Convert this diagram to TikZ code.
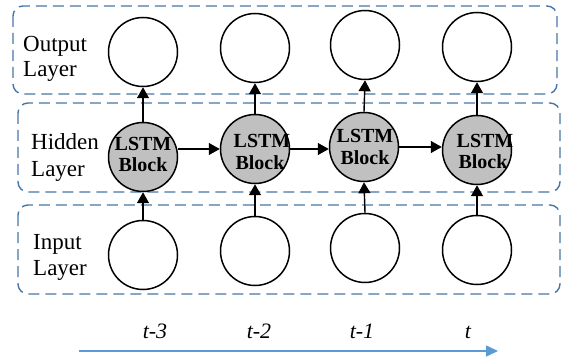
\documentclass[tikz,border=0pt]{standalone}
\usepackage{fontspec}
\setmainfont{Liberation Serif}
\usetikzlibrary{arrows.meta}
\definecolor{boxblue}{RGB}{70,118,165}
\definecolor{timeblue}{RGB}{91,155,213}
\definecolor{lstmgray}{RGB}{192,192,192}
\begin{document}
\begin{tikzpicture}[x=1pt,y=-1pt,
 layerbox/.style={draw=boxblue, line width=1.4pt, dash pattern=on 11pt off 6pt, rounded corners=10pt},
 unit/.style={circle, draw, line width=1.5pt, minimum size=69pt, inner sep=0pt},
 lstm/.style={unit, fill=lstmgray},
 lstmtext/.style={font=\fontsize{20}{20}\selectfont\bfseries, anchor=base, inner sep=0pt},
 laytext/.style={font=\fontsize{23}{25}\selectfont, anchor=base west, inner sep=0pt},
 timetext/.style={font=\fontsize{22}{24}\selectfont\itshape, anchor=base, inner sep=0pt},
 conn/.style={line width=1.4pt, -{Triangle[length=11pt,width=12pt]}},
 timearrow/.style={draw=timeblue, line width=1.6pt, -{Triangle[length=12pt,width=11pt]}},
]
\useasboundingbox (0,0) rectangle (564,363);
% layer boxes
\draw[layerbox] (13,6) rectangle (557,94);
\draw[layerbox] (18,103) rectangle (560,192);
\draw[layerbox] (18,205) rectangle (560,294);
% layer labels
\node[laytext] (outA) at (23,52) {Output};
\node[laytext] (outB) at (23,77) {Layer};
\node[laytext] (hidA) at (31,150) {Hidden};
\node[laytext] (hidB) at (31,177) {Layer};
\node[laytext] (inA) at (33,249) {Input};
\node[laytext] (inB) at (33,275) {Layer};
% output units
\node[unit] (o1) at (143,52) {};
\node[unit] (o2) at (255,48) {};
\node[unit] (o3) at (365,45) {};
\node[unit] (o4) at (477,47) {};
% hidden units
\node[lstm] (h1) at (143,157) {};
\node[lstm] (h2) at (255,149) {};
\node[lstm] (h3) at (364,147) {};
\node[lstm] (h4) at (477,150) {};
% input units
\node[unit] (i1) at (143,255) {};
\node[unit] (i2) at (255,251) {};
\node[unit] (i3) at (365,248) {};
\node[unit] (i4) at (477,250) {};
% LSTM texts
\node[lstmtext] (l1a) at (143,151) {LSTM};
\node[lstmtext] (l1b) at (143,172) {Block};
\node[lstmtext] (l2a) at (262,148) {LSTM};
\node[lstmtext] (l2b) at (260,170) {Block};
\node[lstmtext] (l3a) at (365,143) {LSTM};
\node[lstmtext] (l3b) at (365,165) {Block};
\node[lstmtext] (l4a) at (485,148) {LSTM};
\node[lstmtext] (l4b) at (483,169) {Block};
% vertical connectors
\foreach \k in {1,2,3,4}{
  \draw[conn] (i\k.north) -- (h\k.south);
  \draw[conn] (h\k.north) -- (o\k.south);
}
% horizontal connectors
\draw[conn] (h1.east |- h2.west) -- (h2.west);
\draw[conn] (h2.east) -- (h2.east -| h3.west);
\draw[conn] (h3.east) -- (h3.east -| h4.west);
% time axis
\node[timetext] (t3) at (155,338) {t-3};
\node[timetext] (t2) at (259,338) {t-2};
\node[timetext] (t1) at (362,338) {t-1};
\node[timetext] (t0) at (468,338) {t};
\coordinate (ts) at (79,351);
\coordinate (te) at (498,351);
\draw[timearrow] (ts) -- (te);
\end{tikzpicture}
\end{document}
